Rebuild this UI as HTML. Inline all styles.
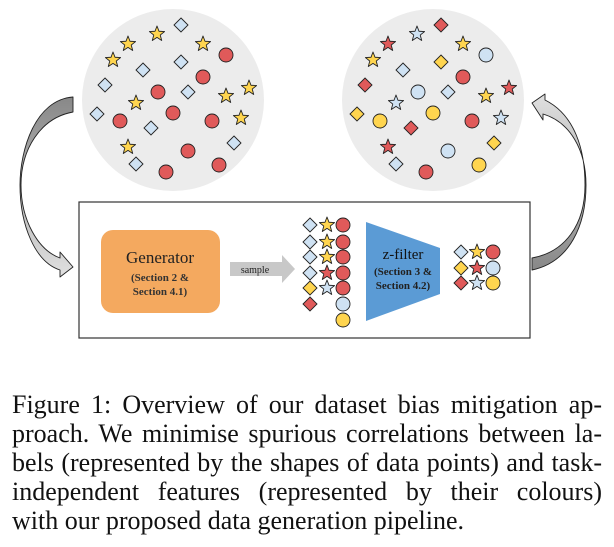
<!DOCTYPE html>
<html><head><meta charset="utf-8"><style>
html,body{margin:0;padding:0;background:#fff;width:614px;height:547px;overflow:hidden;position:relative}
svg{position:absolute;left:0;top:0}
.cap{position:absolute;left:12px;width:590px;font-family:"Liberation Serif",serif;font-size:26px;line-height:29px;color:#111;top:390px}
.cap div{text-align:justify;text-align-last:justify;white-space:nowrap}
.cap div.l{text-align-last:left}
</style></head><body>
<svg width="614" height="380" viewBox="0 0 614 380" xmlns="http://www.w3.org/2000/svg">
<defs>
<polygon id="s" points="0,-8 2,-2.75 7.61,-2.47 3.23,1.05 4.7,6.47 0,3.4 -4.7,6.47 -3.23,1.05 -7.61,-2.47 -2,-2.75" stroke="#222" stroke-width="0.9" stroke-linejoin="round"/>
<polygon id="d" points="0,-7 7,0 0,7 -7,0" stroke="#222" stroke-width="0.9"/>
<circle id="c" r="7" stroke="#222" stroke-width="0.9"/>
<linearGradient id="g1" x1="0" y1="0" x2="0" y2="1"><stop offset="0" stop-color="#888"/><stop offset="1" stop-color="#e0e0e0"/></linearGradient>
<linearGradient id="g2" x1="0" y1="1" x2="0" y2="0"><stop offset="0" stop-color="#888"/><stop offset="1" stop-color="#e0e0e0"/></linearGradient>
</defs>
<circle cx="173" cy="100" r="91" fill="#ececec"/>
<circle cx="433" cy="100" r="91" fill="#ececec"/>
<g>
<use href="#d" x="181" y="25" fill="#cfe2f3"/><use href="#d" x="143" y="70" fill="#cfe2f3"/><use href="#d" x="181" y="62" fill="#cfe2f3"/><use href="#d" x="105" y="85" fill="#cfe2f3"/><use href="#d" x="188" y="92" fill="#cfe2f3"/><use href="#d" x="97" y="114" fill="#cfe2f3"/><use href="#d" x="151" y="128" fill="#cfe2f3"/><use href="#d" x="234" y="143" fill="#cfe2f3"/><use href="#d" x="136" y="164" fill="#cfe2f3"/>
<use href="#s" x="157" y="34" fill="#ffd54f"/><use href="#s" x="128" y="44" fill="#ffd54f"/><use href="#s" x="203" y="44" fill="#ffd54f"/><use href="#s" x="113" y="60" fill="#ffd54f"/><use href="#s" x="136" y="103" fill="#ffd54f"/><use href="#s" x="226" y="96" fill="#ffd54f"/><use href="#s" x="249" y="88" fill="#ffd54f"/><use href="#s" x="241" y="118" fill="#ffd54f"/><use href="#s" x="128" y="147" fill="#ffd54f"/>
<use href="#c" x="226" y="55" fill="#e05a5a"/><use href="#c" x="203" y="77" fill="#e05a5a"/><use href="#c" x="158" y="92" fill="#e05a5a"/><use href="#c" x="173" y="113" fill="#e05a5a"/><use href="#c" x="120" y="121" fill="#e05a5a"/><use href="#c" x="212" y="121" fill="#e05a5a"/><use href="#c" x="188" y="151" fill="#e05a5a"/><use href="#c" x="219" y="165" fill="#e05a5a"/><use href="#c" x="166" y="172" fill="#e05a5a"/>
</g>
<g transform="translate(260,0)">
<use href="#d" x="181" y="25" fill="#e05a5a"/><use href="#d" x="143" y="70" fill="#cfe2f3"/><use href="#d" x="181" y="62" fill="#ffd54f"/><use href="#d" x="105" y="85" fill="#e05a5a"/><use href="#d" x="188" y="92" fill="#cfe2f3"/><use href="#d" x="97" y="114" fill="#ffd54f"/><use href="#d" x="151" y="128" fill="#e05a5a"/><use href="#d" x="234" y="143" fill="#ffd54f"/><use href="#d" x="136" y="164" fill="#cfe2f3"/>
<use href="#s" x="157" y="34" fill="#cfe2f3"/><use href="#s" x="128" y="44" fill="#e05a5a"/><use href="#s" x="203" y="44" fill="#ffd54f"/><use href="#s" x="113" y="60" fill="#ffd54f"/><use href="#s" x="136" y="103" fill="#cfe2f3"/><use href="#s" x="226" y="96" fill="#ffd54f"/><use href="#s" x="249" y="88" fill="#e05a5a"/><use href="#s" x="241" y="118" fill="#cfe2f3"/><use href="#s" x="128" y="147" fill="#e05a5a"/>
<use href="#c" x="226" y="55" fill="#cfe2f3"/><use href="#c" x="203" y="77" fill="#e05a5a"/><use href="#c" x="158" y="92" fill="#cfe2f3"/><use href="#c" x="173" y="113" fill="#ffd54f"/><use href="#c" x="120" y="121" fill="#ffd54f"/><use href="#c" x="212" y="121" fill="#e05a5a"/><use href="#c" x="188" y="151" fill="#cfe2f3"/><use href="#c" x="219" y="165" fill="#ffd54f"/><use href="#c" x="166" y="172" fill="#e05a5a"/>
</g>
<path d="M73,97 C35,100 20,150 20,185 C20,225 35,262 60,270 L60,277 L73,267 L60,252 L60,258 C38,250 21,220 21,185 C21,150 40,118 73,112 Z" fill="url(#g1)" stroke="#222" stroke-width="0.9" stroke-linejoin="round"/>
<path d="M532,270 C570,262 586,225 586,185 C586,150 570,122 543,114 L543,120 L532,103 L545,94 L545,100 C575,115 585,150 585,185 C585,225 565,252 532,258 Z" fill="url(#g2)" stroke="#222" stroke-width="0.9" stroke-linejoin="round"/>
<rect x="79" y="202" width="451" height="136" fill="#fff" stroke="#333" stroke-width="1.2"/>
<rect x="101" y="230" width="119" height="83" rx="12" fill="#f4a95f"/>
<text x="160" y="263" text-anchor="middle" font-family="Liberation Serif,serif" font-size="17" fill="#222">Generator</text>
<text x="160" y="281" text-anchor="middle" font-family="Liberation Serif,serif" font-size="11" font-weight="bold" fill="#333">(Section 2 &amp;</text>
<text x="160" y="295" text-anchor="middle" font-family="Liberation Serif,serif" font-size="11" font-weight="bold" fill="#333">Section 4.1)</text>
<polygon points="230,262 282,262 282,255 295,269 282,283 282,276 230,276" fill="#c8c8c8"/>
<text x="255" y="273" text-anchor="middle" font-family="Liberation Serif,serif" font-size="10" fill="#222">sample</text>
<use href="#d" x="310" y="225" fill="#cfe2f3"/><use href="#d" x="310" y="242" fill="#cfe2f3"/><use href="#d" x="310" y="257" fill="#cfe2f3"/><use href="#d" x="310" y="273" fill="#cfe2f3"/><use href="#d" x="310" y="288" fill="#ffd54f"/><use href="#d" x="310" y="304" fill="#e05a5a"/>
<use href="#s" x="327" y="225" fill="#ffd54f"/><use href="#s" x="327" y="242" fill="#ffd54f"/><use href="#s" x="327" y="257" fill="#ffd54f"/><use href="#s" x="327" y="273" fill="#e05a5a"/><use href="#s" x="327" y="288" fill="#cfe2f3"/>
<use href="#c" x="343" y="225" fill="#e05a5a"/><use href="#c" x="343" y="242" fill="#e05a5a"/><use href="#c" x="343" y="257" fill="#e05a5a"/><use href="#c" x="343" y="273" fill="#e05a5a"/><use href="#c" x="343" y="288" fill="#e05a5a"/><use href="#c" x="343" y="304" fill="#cfe2f3"/><use href="#c" x="343" y="320" fill="#ffd54f"/>
<polygon points="366,222 440,248 440,294 366,321" fill="#5b9bd5"/>
<text x="403" y="259" text-anchor="middle" font-family="Liberation Serif,serif" font-size="15" fill="#111">z-filter</text>
<text x="403" y="275" text-anchor="middle" font-family="Liberation Serif,serif" font-size="11" font-weight="bold" fill="#222">(Section 3 &amp;</text>
<text x="403" y="289" text-anchor="middle" font-family="Liberation Serif,serif" font-size="11" font-weight="bold" fill="#222">Section 4.2)</text>
<use href="#d" x="461" y="252" fill="#cfe2f3"/><use href="#s" x="477" y="252" fill="#ffd54f"/><use href="#c" x="493" y="252" fill="#e05a5a"/>
<use href="#d" x="461" y="268" fill="#ffd54f"/><use href="#s" x="477" y="268" fill="#e05a5a"/><use href="#c" x="493" y="268" fill="#cfe2f3"/>
<use href="#d" x="461" y="283" fill="#e05a5a"/><use href="#s" x="477" y="283" fill="#cfe2f3"/><use href="#c" x="493" y="283" fill="#ffd54f"/>
</svg>
<div class="cap">
<div>Figure 1: Overview of our dataset bias mitigation ap-</div>
<div>proach. We minimise spurious correlations between la-</div>
<div>bels (represented by the shapes of data points) and task-</div>
<div>independent features (represented by their colours)</div>
<div class="l">with our proposed data generation pipeline.</div>
</div>
</body></html>
